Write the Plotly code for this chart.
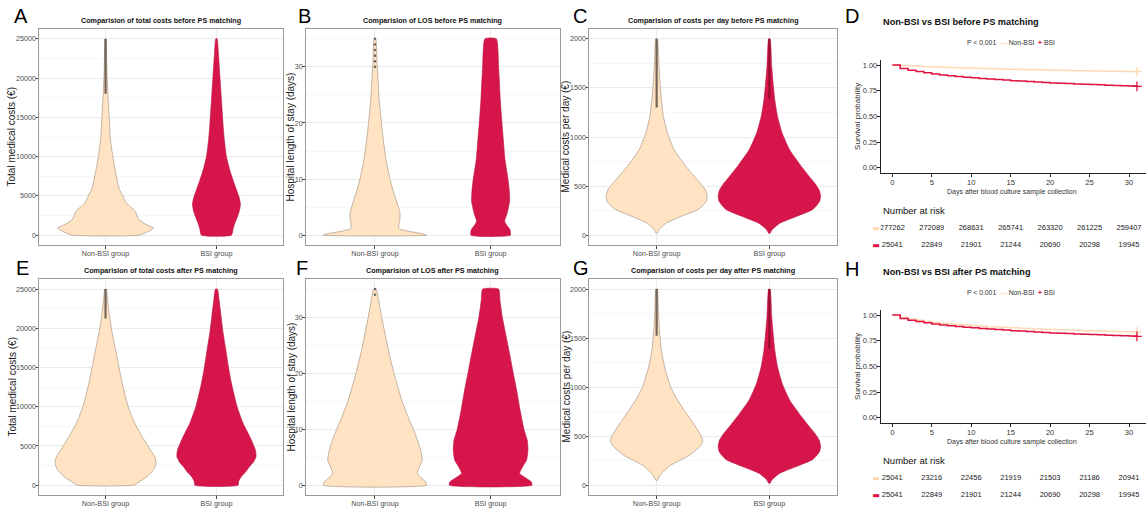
import plotly.graph_objects as go

# ---------------- data ----------------
groups = ["Non-BSI group", "BSI group"]
group_pos = [1, 2]

# Violin density profiles: value levels and half-widths (in category units)
A_non_v = [0, 400, 900, 1400, 2000, 2600, 3000, 3600, 4100, 5000, 5800, 8000, 10000, 12000, 15000, 18000, 21000, 25000]
A_non_w = [0.30, 0.375, 0.432, 0.36, 0.30, 0.28, 0.27, 0.225, 0.186, 0.156, 0.126, 0.09, 0.066, 0.045, 0.033, 0.021, 0.012, 0.003]
A_bsi_v = [0, 800, 1500, 2200, 3000, 3900, 4800, 5800, 7000, 8000, 10000, 12000, 14000, 17000, 20000, 23000, 25000]
A_bsi_w = [0.135, 0.15, 0.165, 0.185, 0.205, 0.216, 0.205, 0.18, 0.15, 0.126, 0.09, 0.072, 0.06, 0.046, 0.032, 0.018, 0.006]

B_non_v = [0, 0.3, 0.7, 1.2, 2, 3, 4, 6, 8, 10, 13.5, 18, 24, 30, 35]
B_non_w = [0.447, 0.403, 0.288, 0.207, 0.207, 0.216, 0.216, 0.187, 0.156, 0.13, 0.095, 0.066, 0.037, 0.02, 0.006]
B_bsi_v = [0, 1, 1.8, 2.5, 4, 6, 8, 10, 13.5, 17, 20, 24, 30, 35]
B_bsi_w = [0.17, 0.167, 0.138, 0.121, 0.144, 0.164, 0.161, 0.15, 0.124, 0.11, 0.098, 0.084, 0.069, 0.049]

C_non_v = [20, 55, 120, 190, 260, 300, 350, 400, 460, 520, 600, 700, 870, 1040, 1210, 1380, 1550, 1720, 2000]
C_non_w = [0.006, 0.021, 0.081, 0.215, 0.364, 0.409, 0.442, 0.448, 0.433, 0.394, 0.334, 0.26, 0.155, 0.096, 0.06, 0.042, 0.03, 0.021, 0.006]
C_bsi_v = [20, 55, 120, 190, 260, 300, 350, 400, 460, 520, 600, 700, 870, 1040, 1210, 1380, 1550, 1720, 2000]
C_bsi_w = [0.006, 0.024, 0.09, 0.239, 0.382, 0.418, 0.448, 0.454, 0.442, 0.409, 0.352, 0.284, 0.179, 0.113, 0.072, 0.048, 0.033, 0.021, 0.006]

E_non_v = [0, 250, 1100, 2000, 2800, 3600, 4500, 6200, 7900, 10000, 13000, 15100, 17300, 19400, 21500, 23600, 25000]
E_non_w = [0.255, 0.285, 0.375, 0.435, 0.456, 0.444, 0.405, 0.33, 0.264, 0.204, 0.15, 0.12, 0.09, 0.06, 0.036, 0.018, 0.006]
E_bsi_v = [0, 500, 1100, 1700, 2400, 3000, 3650, 4500, 6200, 7900, 10000, 13000, 15100, 17300, 19400, 21500, 23600, 25000]
E_bsi_w = [0.195, 0.2, 0.225, 0.264, 0.3, 0.336, 0.357, 0.351, 0.3, 0.24, 0.186, 0.135, 0.108, 0.084, 0.06, 0.042, 0.024, 0.009]

F_non_v = [0, 0.6, 1.3, 2.1, 3.2, 4.5, 6, 8, 10, 12.5, 15.2, 20, 24.2, 30, 35]
F_non_w = [0.447, 0.438, 0.398, 0.366, 0.383, 0.409, 0.398, 0.369, 0.331, 0.28, 0.231, 0.164, 0.115, 0.058, 0.009]
F_bsi_v = [0, 0.6, 1.3, 2.1, 3.2, 4.5, 6.3, 8, 10, 13.5, 17, 20, 24, 27, 30, 33, 35]
F_bsi_w = [0.357, 0.352, 0.303, 0.251, 0.274, 0.311, 0.323, 0.317, 0.288, 0.254, 0.225, 0.196, 0.159, 0.13, 0.101, 0.081, 0.069]

G_non_v = [50, 100, 200, 300, 400, 450, 500, 600, 700, 800, 900, 1000, 1200, 1400, 1600, 1800, 2000]
G_non_w = [0.006, 0.03, 0.119, 0.284, 0.388, 0.409, 0.397, 0.343, 0.284, 0.224, 0.17, 0.125, 0.072, 0.039, 0.024, 0.015, 0.006]
G_bsi_v = [20, 55, 120, 190, 260, 300, 350, 400, 460, 520, 600, 700, 870, 1040, 1210, 1380, 1550, 1720, 2000]
G_bsi_w = [0.006, 0.024, 0.09, 0.239, 0.382, 0.418, 0.448, 0.454, 0.442, 0.409, 0.352, 0.284, 0.179, 0.113, 0.072, 0.048, 0.033, 0.021, 0.006]

# Box summaries [Non-BSI, BSI]: q1, median, q3, lower whisker, upper whisker
A_q1, A_med, A_q3, A_lo, A_hi = [1500, 3200], [3800, 6400], [8100, 11900], [0, 0], [18000, 25000]
B_q1, B_med, B_q3, B_lo, B_hi = [2, 5], [6, 11], [13, 20], [0, 0], [29, 35]
C_q1, C_med, C_q3, C_lo, C_hi = [350, 390], [500, 550], [730, 790], [20, 20], [1300, 1390]
E_q1, E_med, E_q3, E_lo, E_hi = [2500, 3200], [5000, 6400], [10000, 11900], [0, 0], [21250, 25000]
F_q1, F_med, F_q3, F_lo, F_hi = [3, 5], [8, 11], [15, 20], [0, 0], [33, 35]
G_q1, G_med, G_q3, G_lo, G_hi = [400, 390], [580, 550], [850, 790], [50, 20], [1525, 1390]

# dense outlier ranges (drawn as a thick band) [Non-BSI, BSI]
A_out = [(18000, 25000), None]
C_out = [(1300, 2000), (1390, 2000)]
E_out = [(21250, 25000), None]
G_out = [(1525, 2000), (1390, 2000)]
# discrete outliers (LOS, days), Non-BSI
B_out_pts = [30, 31, 32, 33, 34, 35]
F_out_pts = [34, 35]

# Kaplan-Meier survival (daily)
km_days = list(range(0, 32))
D_non = [1.0, 0.996, 0.992, 0.988, 0.984, 0.981, 0.978, 0.976, 0.974, 0.971, 0.969, 0.967, 0.965, 0.963, 0.960, 0.958,
         0.956, 0.955, 0.953, 0.952, 0.950, 0.948, 0.947, 0.945, 0.944, 0.942, 0.941, 0.940, 0.939, 0.937, 0.936, 0.935]
bsi_surv = [1.0, 0.965, 0.948, 0.936, 0.924, 0.912, 0.903, 0.896, 0.889, 0.882, 0.875, 0.869, 0.863, 0.858, 0.853, 0.848,
            0.844, 0.839, 0.835, 0.830, 0.826, 0.823, 0.819, 0.816, 0.813, 0.810, 0.807, 0.804, 0.801, 0.798, 0.796, 0.793]
H_non = [1.0, 0.978, 0.962, 0.950, 0.938, 0.927, 0.920, 0.913, 0.907, 0.902, 0.897, 0.892, 0.887, 0.883, 0.879, 0.875,
         0.872, 0.869, 0.865, 0.862, 0.859, 0.856, 0.853, 0.851, 0.848, 0.846, 0.844, 0.842, 0.840, 0.838, 0.836, 0.835]

risk_days = [0, 5, 10, 15, 20, 25, 30]
D_risk_non = [277262, 272089, 268631, 265741, 263320, 261225, 259407]
D_risk_bsi = [25041, 22849, 21901, 21244, 20690, 20298, 19945]
H_risk_non = [25041, 23216, 22456, 21919, 21503, 21186, 20941]
H_risk_bsi = [25041, 22849, 21901, 21244, 20690, 20298, 19945]

# ---------------- style ----------------
W, H = 1146, 510
NON_FILL = "#FFE3C3"
BSI_FILL = "#D6154B"
KM_NON = "#FFD9B3"
KM_BSI = "#E0123F"
NARROW = "Liberation Sans, Arial, sans-serif"
SANS = "Liberation Sans, Arial, sans-serif"

def px(x):
    return x / W

def py(y):
    return 1 - y / H

fig = go.Figure()
layout = {}
annotations = []

def violin_xy(center, vals, half):
    xs = [center + w for w in half] + [center - w for w in reversed(half)]
    ys = list(vals) + list(reversed(vals))
    xs.append(xs[0])
    ys.append(ys[0])
    return xs, ys

def violin_panel(idx, xdom, ydom, yrange, ydtick, yminor, profiles, boxes, dense=None, pts=None):
    xa = "x" if idx == 1 else f"x{idx}"
    ya = "y" if idx == 1 else f"y{idx}"
    fills = [NON_FILL, BSI_FILL]
    edges = ["#9c8a78", "#b8123f"]
    for k, (vals, half) in enumerate(profiles):
        xs, ys = violin_xy(group_pos[k], vals, half)
        fig.add_trace(go.Scatter(x=xs, y=ys, mode="lines", fill="toself", fillcolor=fills[k],
                                 line=dict(color=edges[k], width=0.6, shape="spline", smoothing=0.5),
                                 xaxis=xa, yaxis=ya, showlegend=False, hoverinfo="skip"))
    q1, med, q3, lo, hi = boxes
    for k in range(2):
        fig.add_trace(go.Box(x=[group_pos[k]], q1=[q1[k]], median=[med[k]], q3=[q3[k]],
                             lowerfence=[lo[k]], upperfence=[hi[k]], width=0.1, whiskerwidth=0,
                             fillcolor="rgba(0,0,0,0)", boxpoints=False,
                             line=dict(color="#6a6a6a" if k == 1 else "#8f8377", width=0.8),
                             xaxis=xa, yaxis=ya, showlegend=False, hoverinfo="skip"))
    if dense:
        for k, rng in enumerate(dense):
            if rng:
                fig.add_trace(go.Scatter(x=[group_pos[k], group_pos[k]], y=list(rng), mode="lines",
                                         line=dict(color="rgba(70,60,55,0.75)" if k == 0 else "rgba(130,10,40,0.7)", width=2.2),
                                         xaxis=xa, yaxis=ya, showlegend=False, hoverinfo="skip"))
    if pts:
        fig.add_trace(go.Scatter(x=[group_pos[0]] * len(pts), y=pts, mode="markers",
                                 marker=dict(color="#666", size=2.6),
                                 xaxis=xa, yaxis=ya, showlegend=False, hoverinfo="skip"))
    xk = "xaxis" if idx == 1 else f"xaxis{idx}"
    yk = "yaxis" if idx == 1 else f"yaxis{idx}"
    layout[xk] = dict(domain=[px(xdom[0]), px(xdom[1])], anchor=ya, range=[0.4, 2.6],
                      tickvals=group_pos, ticktext=groups, showgrid=True, gridcolor="#EBEBEB", gridwidth=0.8,
                      showline=True, mirror=True, linecolor="#9a9a9a", linewidth=1,
                      ticks="outside", ticklen=2.5, tickcolor="#444", zeroline=False, ticklabelstandoff=-1,
                      tickfont=dict(family=NARROW, size=7.2, color="#4d4d4d"))
    layout[yk] = dict(domain=[py(ydom[1]), py(ydom[0])], anchor=xa, range=yrange,
                      dtick=ydtick, tick0=0, tickformat="d", showgrid=True, gridcolor="#EBEBEB", gridwidth=0.8,
                      minor=dict(dtick=yminor, tick0=0, showgrid=True, gridcolor="#F6F6F6", gridwidth=0.6),
                      showline=True, mirror=True, linecolor="#9a9a9a", linewidth=1,
                      ticks="outside", ticklen=2.5, tickcolor="#444", zeroline=False, ticklabelstandoff=-2,
                      tickfont=dict(family=NARROW, size=7.2, color="#4d4d4d"))

TOP = (29, 245)
BOT = (279.3, 495)
XA, XB, XC = (39, 283), (305.6, 560), (589, 837)

violin_panel(1, XA, TOP, [-1250, 26250], 5000, 2500, [(A_non_v, A_non_w), (A_bsi_v, A_bsi_w)],
             (A_q1, A_med, A_q3, A_lo, A_hi), dense=A_out)
violin_panel(2, XB, TOP, [-1.75, 36.75], 10, 5, [(B_non_v, B_non_w), (B_bsi_v, B_bsi_w)],
             (B_q1, B_med, B_q3, B_lo, B_hi), pts=B_out_pts)
violin_panel(3, XC, TOP, [-100, 2100], 500, 250, [(C_non_v, C_non_w), (C_bsi_v, C_bsi_w)],
             (C_q1, C_med, C_q3, C_lo, C_hi), dense=C_out)
violin_panel(5, XA, BOT, [-1250, 26250], 5000, 2500, [(E_non_v, E_non_w), (E_bsi_v, E_bsi_w)],
             (E_q1, E_med, E_q3, E_lo, E_hi), dense=E_out)
violin_panel(6, XB, BOT, [-1.75, 36.75], 10, 5, [(F_non_v, F_non_w), (F_bsi_v, F_bsi_w)],
             (F_q1, F_med, F_q3, F_lo, F_hi), pts=F_out_pts)
violin_panel(7, XC, BOT, [-100, 2100], 500, 250, [(G_non_v, G_non_w), (G_bsi_v, G_bsi_w)],
             (G_q1, G_med, G_q3, G_lo, G_hi), dense=G_out)

# ---------------- KM panels ----------------
KX = (880.7, 1146)
KM_XR = [-1.47, 32.15]

def km_panel(idx, ridx, ytop, non, bsi, risk_non, risk_bsi):
    xa, ya = f"x{idx}", f"y{idx}"
    for surv, col in [(non, KM_NON), (bsi, KM_BSI)]:
        fig.add_trace(go.Scatter(x=km_days, y=surv, mode="lines", line=dict(color=col, width=1.5, shape="hv"),
                                 xaxis=xa, yaxis=ya, showlegend=False, hoverinfo="skip"))
        fig.add_trace(go.Scatter(x=[km_days[-1]], y=[surv[-1]], mode="markers",
                                 marker=dict(symbol="cross-thin", size=7, line=dict(color=col, width=1.3)),
                                 xaxis=xa, yaxis=ya, showlegend=False, hoverinfo="skip"))
    y0, y1 = ytop, ytop + 112.9
    layout[f"xaxis{idx}"] = dict(domain=[px(KX[0]), px(KX[1])], anchor=ya, range=KM_XR,
                                 tickvals=risk_days, showgrid=False, zeroline=False,
                                 showline=True, linecolor="#222", linewidth=1, ticks="outside",
                                 ticklen=3, tickcolor="#222", ticklabelstandoff=-1,
                                 tickfont=dict(family=NARROW, size=7.6, color="#333"))
    layout[f"yaxis{idx}"] = dict(domain=[py(y1), py(y0)], anchor=xa, range=[-0.05, 1.05],
                                 tickvals=[0, 0.25, 0.5, 0.75, 1.0], ticktext=["0.00", "0.25", "0.50", "0.75", "1.00"],
                                 showgrid=False, zeroline=False, showline=True, linecolor="#222", linewidth=1,
                                 ticks="outside", ticklen=3, tickcolor="#222", ticklabelstandoff=-2,
                                 tickfont=dict(family=NARROW, size=7.4, color="#333"))
    # risk table
    rxa, rya = f"x{ridx}", f"y{ridx}"
    for row, vals in [(1, risk_non), (0, risk_bsi)]:
        fig.add_trace(go.Scatter(x=risk_days, y=[row] * len(vals), mode="text",
                                 text=[str(v) for v in vals],
                                 textfont=dict(family=NARROW, size=7.5, color="#222"),
                                 xaxis=rxa, yaxis=rya, showlegend=False, hoverinfo="skip"))
    r0 = ytop + 160.1
    layout[f"xaxis{ridx}"] = dict(domain=[px(KX[0]), px(KX[1])], anchor=rya, range=KM_XR,
                                  visible=False)
    layout[f"yaxis{ridx}"] = dict(domain=[py(r0 + 34), py(r0)], anchor=rxa, range=[-0.5, 1.5],
                                  tickvals=[1, 0],
                                  ticktext=[f'<span style="color:{KM_NON}">▬</span>',
                                            f'<span style="color:{KM_BSI}">▬</span>'],
                                  showgrid=False, zeroline=False, showline=False, ticks="",
                                  tickfont=dict(family="DejaVu Sans", size=8))

km_panel(4, 9, 59.9, D_non, bsi_surv, D_risk_non, D_risk_bsi)
km_panel(8, 10, 309.9, H_non, bsi_surv, H_risk_non, H_risk_bsi)

# ---------------- text ----------------
def ann(text, x, y, size, family=SANS, color="#000", xanchor="center", angle=0, bold=False):
    annotations.append(dict(text=f"<b>{text}</b>" if bold else text, x=px(x), y=py(y), xref="paper", yref="paper",
                            showarrow=False, xanchor=xanchor, yanchor="middle", textangle=angle,
                            font=dict(family=family, size=size, color=color)))

for letter, x, y in [("A", 21, 16), ("B", 304, 16), ("C", 580, 16), ("D", 852, 16),
                     ("E", 22, 268), ("F", 302, 268), ("G", 581, 268), ("H", 852, 269)]:
    ann(letter, x, y, 20)

for t, x, y in [("Comparision of total costs before PS matching", 161, 20.7),
                ("Comparision of LOS before PS matching", 432.8, 20.7),
                ("Comparision of costs per day before PS matching", 713, 20.7),
                ("Comparision of total costs after PS matching", 161, 270.7),
                ("Comparision of LOS after PS matching", 432.8, 270.7),
                ("Comparision of costs per day after PS matching", 713, 270.7)]:
    ann(t, x, y, 7.2, family=NARROW, color="#111", bold=True)

for t, x, y in [("Total medical costs (€)", 11.5, 137), ("Hospital length of stay (days)", 290.5, 137),
                ("Medical costs per day (€)", 565.5, 137), ("Total medical costs (€)", 11.5, 387),
                ("Hospital length of stay (days)", 290.5, 387), ("Medical costs per day (€)", 565.5, 387)]:
    ann(t, x, y, 10, color="#222", angle=-90)

legend_txt = (f'P < 0.001  <span style="color:{KM_NON}"><b>—</b></span> Non-BSI  '
              f'<span style="color:{KM_BSI}"><b>+</b></span> BSI')
for yoff in (0, 250):
    ann(legend_txt, 1011, 42.7 + yoff, 6.8, family=NARROW, color="#333")

ann("Non-BSI vs BSI before PS matching", 881, 21.7, 9.2, family=NARROW, color="#111", xanchor="left", bold=True)
ann("Non-BSI vs BSI after PS matching", 881, 271.7, 9.2, family=NARROW, color="#111", xanchor="left", bold=True)
ann("Survival probability", 857.5, 116.4, 8, color="#333", angle=-90)
ann("Survival probability", 857.5, 366.4, 8, color="#333", angle=-90)
ann("Days after blood culture sample collection", 1011.7, 191.7, 7, family=NARROW, color="#333")
ann("Days after blood culture sample collection", 1011.7, 441.7, 7, family=NARROW, color="#333")
ann("Number at risk", 881, 210, 9.5, family=NARROW, color="#111", xanchor="left")
ann("Number at risk", 881, 460, 9.5, family=NARROW, color="#111", xanchor="left")

fig.update_layout(width=W, height=H, margin=dict(l=0, r=0, t=0, b=0), plot_bgcolor="white",
                  paper_bgcolor="white", annotations=annotations, boxmode="overlay", showlegend=False, **layout)

fig.write_html("out.html", config={"displayModeBar": False})
with open("out.html", encoding="utf-8") as f:
    html = f.read()
html = html.replace("<head>", "<head><style>html,body{margin:0;padding:0;overflow:hidden;}</style>", 1)
with open("out.html", "w", encoding="utf-8") as f:
    f.write(html)
